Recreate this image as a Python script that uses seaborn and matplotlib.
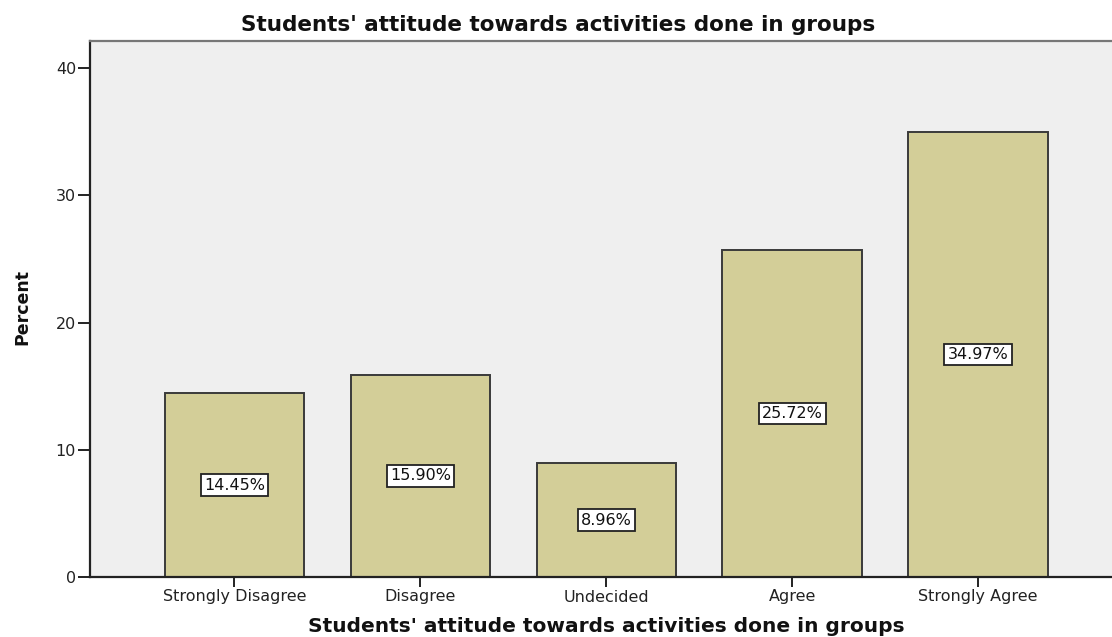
import matplotlib
matplotlib.use("Agg")
import matplotlib.pyplot as plt
import seaborn as sns
import pandas as pd

# Survey responses: share of students per answer
categories = ["Strongly Disagree", "Disagree", "Undecided", "Agree", "Strongly Agree"]
percents = [14.45, 15.90, 8.96, 25.72, 34.97]
yticks = [0, 10, 20, 30, 40]

title = "Students' attitude towards activities done in groups"

df = pd.DataFrame({"category": categories, "percent": percents})

sns.set_style("white")
plt.rcParams["font.family"] = ["DejaVu Sans"]

W, H = 1112, 637
fig = plt.figure(figsize=(W / 100, H / 100), dpi=100)
fig.patch.set_facecolor("white")

# plot area in pixel units (frame extends past the right edge)
left, right, top, bottom = 90, 1122.5, 41, 577
ax = fig.add_axes([left / W, (H - bottom) / H, (right - left) / W, (bottom - top) / H])
ax.set_facecolor("#efefef")

sns.barplot(data=df, x="category", y="percent", order=categories,
            color="#d3ce98", saturation=1, width=0.75,
            edgecolor="#3a3a3a", linewidth=1.4, ax=ax, zorder=2)

ax.set_xlim(-0.777, 4.777)
ax.set_ylim(0, 42.13)
ax.set_yticks(yticks)
ax.set_yticklabels([str(t) for t in yticks])
ax.set_xlabel("")
ax.set_ylabel("")

for s in ["left", "bottom"]:
    ax.spines[s].set_color("#222222")
    ax.spines[s].set_linewidth(1.6)
ax.spines["top"].set_color("#777777")
ax.spines["top"].set_linewidth(1.6)
ax.spines["right"].set_visible(False)

ax.tick_params(axis="y", left=True, direction="out", length=9, width=1.4,
               color="#222222", pad=1, labelsize=11.5, labelcolor="#222222")
ax.tick_params(axis="x", bottom=True, direction="out", length=7, width=1.4,
               color="#222222", pad=2, labelsize=11.5, labelcolor="#222222")

# value labels centred inside each bar
for i, v in enumerate(percents):
    ax.text(i, v / 2, f"{v:.2f}%", ha="center", va="center", fontsize=11.5,
            color="#111111", zorder=5,
            bbox=dict(boxstyle="square,pad=0.2", facecolor="white",
                      edgecolor="#222222", linewidth=1.3))

fig.text(558 / W, 1 - 25 / H, title, ha="center", va="center",
         fontsize=15.5, fontweight="bold", color="#111111")
fig.text(606.5 / W, 1 - 627 / H, title, ha="center", va="center",
         fontsize=14.5, fontweight="bold", color="#111111")
fig.text(22 / W, 1 - 307 / H, "Percent", ha="center", va="center", rotation=90,
         fontsize=12.5, fontweight="bold", family=["DejaVu Sans"],
         color="#111111")

fig.savefig("out.png", dpi=100, facecolor="white")
